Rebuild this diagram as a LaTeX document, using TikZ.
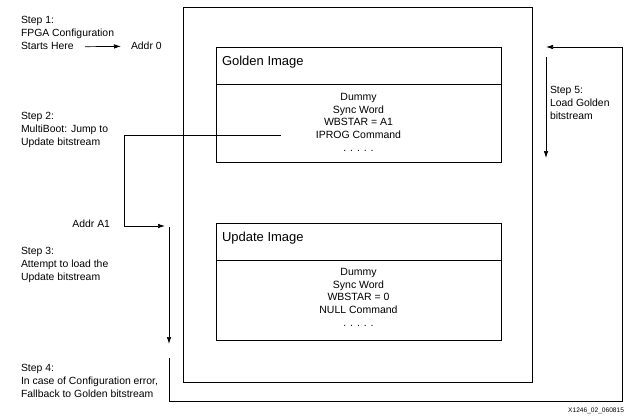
\documentclass[tikz,border=0pt]{standalone}
\usepackage{fontspec}
\setmainfont{Liberation Sans}
\usetikzlibrary{positioning,arrows.meta}

\begin{document}
\begin{tikzpicture} [
	x=1pt, y=-1pt,
	every node/.style = {inner sep=0, outer sep=0},
	box/.style = {draw, line width=0.8pt, minimum width=285pt},
	steptext/.style = {anchor=north west, align=left, font=\fontsize{10.4}{12.9}\selectfont},
	title/.style = {font=\fontsize{13}{15}\selectfont},
	content/.style = {align=center, font=\fontsize{10.5}{12.8}\selectfont},
	arr/.style = {draw, line width=0.7pt, -{Latex[length=7pt,width=4.5pt]}}
]
\useasboundingbox (0,0) rectangle (642,417);

% flash memory
\node (flash) [draw, line width=0.8pt, anchor=north west, minimum width=349pt, minimum height=375pt] at (183,7) {};

\node (goldenhead) [box, anchor=north west, minimum height=37pt] at (216,47) {};
\node (goldenbody) [box, minimum height=78pt, below=0pt of goldenhead] {};
\node (goldentitle) [title, below right=9pt and 6pt of goldenhead.north west] {Golden Image};
\node (goldentext) [content, below=9pt of goldenbody.north] {Dummy\\Sync Word\\WBSTAR = A1\\IPROG Command\\. . . . .};

\node (updatehead) [box, anchor=north west, minimum height=37pt] at (216,223) {};
\node (updatebody) [box, minimum height=80pt, below=0pt of updatehead] {};
\node (updatetitle) [title, below right=9pt and 6pt of updatehead.north west] {Update Image};
\node (updatetext) [content, below=8pt of updatebody.north] {Dummy\\Sync Word\\WBSTAR = 0\\NULL Command\\. . . . .};

% steps
\node (step1) [steptext] at (21,16.5) {Step 1:\\FPGA Configuration\\Starts Here};
\node (addr0) [anchor=base west, font=\fontsize{10.4}{12.9}\selectfont] at (131,50) {Addr 0};
\node (step2) [steptext] at (21,112.5) {Step 2:\\MultiBoot: Jump to\\Update bitstream};
\node (addra1) [anchor=base east, font=\fontsize{10.4}{12.9}\selectfont] at (110,227) {Addr A1};
\node (step3) [steptext] at (21,247.5) {Step 3:\\Attempt to load the\\Update bitstream};
\node (step4) [steptext] at (21,364) {Step 4:\\In case of Configuration error,\\Fallback to Golden bitstream};
\node (step5) [steptext] at (550,86) {Step 5:\\Load Golden\\bitstream};

\node (figid) [anchor=base east, font=\fontsize{6.6}{8}\selectfont] at (624,412) {X1246\_02\_060815};

\coordinate (starttail) at (85,46.7);
\coordinate (jump) at (281,135);
\coordinate (jumpturn) at (124,226);
\coordinate (a1tip) at (165,226);
\coordinate (loadtop) at (169,227);
\coordinate (loadend) at (169,344);
\coordinate (fallback) at (169,358);
\coordinate (fallturn) at (622,401);
\coordinate (goldentip) at (546,47);
\coordinate (step5top) at (546,57);
\coordinate (step5end) at (546,158);

\draw [arr, shorten >=10pt] (starttail) -- (addr0.west);
\draw [arr] (jump) -| (jumpturn) -- (a1tip);
\draw [arr] (loadtop) -- (loadend);
\draw [arr] (fallback) |- (fallturn) |- (goldentip);
\draw [arr] (step5top) -- (step5end);

\end{tikzpicture}
\end{document}
